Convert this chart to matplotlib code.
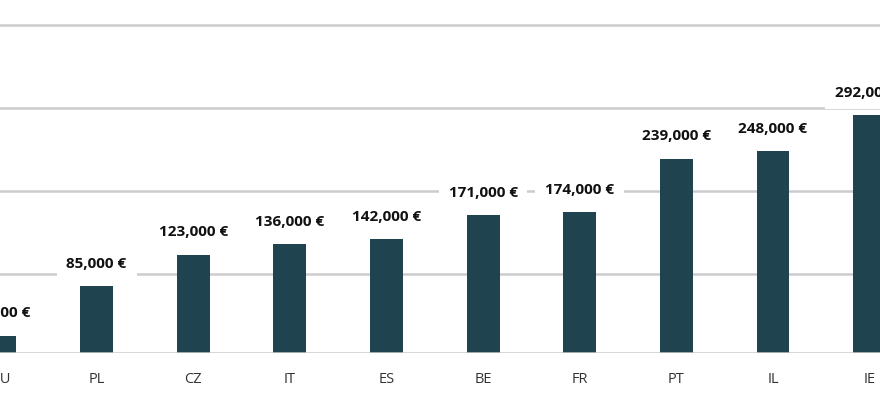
import matplotlib
matplotlib.use("Agg")
import matplotlib.pyplot as plt

countries = ["HU", "PL", "CZ", "IT", "ES", "BE", "FR", "PT", "IL", "IE"]
values = [25000, 85000, 123000, 136000, 142000, 171000, 174000, 239000, 248000, 292000]
grid_steps = [100000, 200000, 300000, 400000]

plt.rcParams["font.family"] = ["Open Sans", "DejaVu Sans"]

fig = plt.figure(figsize=(8.8, 4.05), dpi=100)
ax = fig.add_axes([0, 52 / 405, 1, 353 / 405])

x = list(range(len(countries)))
ax.bar(x, values, width=0.34, color="#1f4450", zorder=2)

base = 4000
for g in grid_steps:
    ax.axhline(g, color="#cccccc", lw=1.8, zorder=1)
ax.axhline(base, color="#cccccc", lw=1.8, zorder=3)

for xi, v in zip(x, values):
    ax.annotate("{:,} €".format(v), (xi, v), xytext=(0, 16), textcoords="offset points",
                ha="center", va="center", fontsize=11, fontweight="bold", color="#111111",
                bbox=dict(facecolor="white", edgecolor="none", pad=7), zorder=4)

ax.set_xlim(0.082, 9.108)
ax.set_ylim(base, 430800)
ax.set_xticks(x)
ax.set_xticklabels(countries, fontsize=10.5, color="#333333")
ax.tick_params(axis="x", length=0, pad=14)
ax.set_yticks([])
for s in ax.spines.values():
    s.set_visible(False)

fig.savefig("out.png", dpi=100)
